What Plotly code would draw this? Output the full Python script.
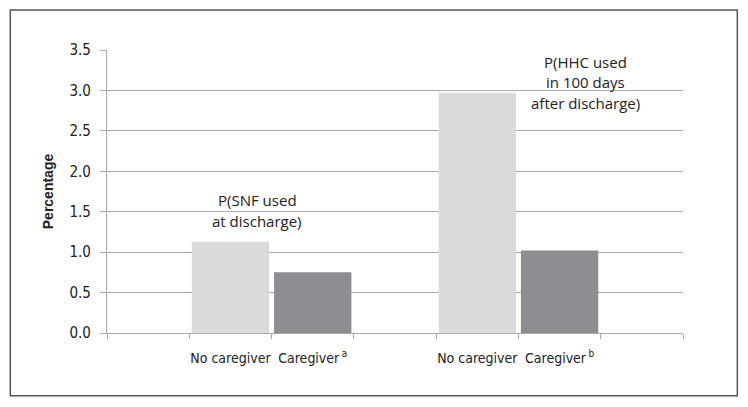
import plotly.graph_objects as go

# Data
slots = ["", "No caregiver", "Caregiver\u2009<sup>a</sup>", "", "No caregiver", "Caregiver\u2009<sup>b</sup>", ""]
bar_slot_index = [1, 2, 4, 5]
bar_values = [1.13, 0.75, 2.97, 1.02]
bar_colors = ["#d9dadc", "#8d8e91", "#d9dadc", "#8d8e91"]

snf_label = ["P(SNF used", "at discharge)"]
hhc_label = ["P(HHC used", "in 100 days", "after discharge)"]
y_ticks = [0.0, 0.5, 1.0, 1.5, 2.0, 2.5, 3.0, 3.5]

tick_labels = [slots[i] for i in bar_slot_index]
boundaries = [i - 0.5 for i in range(len(slots) + 1)]

fig = go.Figure()
fig.add_trace(go.Bar(
    x=bar_slot_index, y=bar_values,
    marker=dict(color=bar_colors, line=dict(width=0)),
    width=0.94, showlegend=False,
))

narrow = "Liberation Sans Narrow, Arial Narrow, DejaVu Sans Condensed, Liberation Sans, Arial"
xtick_font = dict(family=narrow, size=14, color="#222222")
ytick_font = dict(family=narrow, size=15, color="#222222")
ann_font = dict(family="Open Sans, Noto Sans, sans-serif", size=15, color="#222222")

def add_label(lines, xc, yc, spacing):
    n = len(lines)
    for i, t in enumerate(lines):
        off = ((n - 1) / 2 - i) * spacing
        fig.add_annotation(x=xc, y=yc, text=t, showarrow=False, yshift=off,
                           xanchor="center", yanchor="middle", font=ann_font)

add_label(snf_label, 1.323, 1.513, 21)
add_label(hhc_label, 5.31, 3.10, 20.5)

grid_c = "#ababab"
fig.update_layout(
    width=748, height=407,
    margin=dict(l=106.7, r=65.3, t=50, b=73.7, autoexpand=False),
    paper_bgcolor="white", plot_bgcolor="white",
    xaxis=dict(
        range=[-0.5, len(slots) - 0.5], tickmode="array",
        tickvals=bar_slot_index, ticktext=tick_labels, ticks="",
        minor=dict(tickmode="array", tickvals=boundaries, ticks="outside", ticklen=5,
                   tickcolor=grid_c, tickwidth=1.3, showgrid=False),
        showline=True, linecolor=grid_c, linewidth=1.3, zeroline=False,
        showgrid=False, tickfont=xtick_font, ticklabelstandoff=12, tickangle=0,
    ),
    yaxis=dict(
        range=[0, 3.5], tickvals=y_ticks, ticktext=[f"{v:.1f}" for v in y_ticks],
        ticks="outside", ticklen=6, tickcolor=grid_c, tickwidth=1.3,
        showline=True, linecolor=grid_c, linewidth=1.3,
        showgrid=True, gridcolor=grid_c, gridwidth=1.3, zeroline=False,
        tickfont=ytick_font, ticklabelstandoff=6,
        title=dict(text="<b>Percentage</b>", standoff=12,
                   font=dict(family="Liberation Sans, Arial", size=14, color="#222222")),
    ),
    shapes=[dict(type="rect", xref="paper", yref="paper",
                 x0=-0.1679, x1=1.0943, y0=-0.2213, y1=1.1412,
                 line=dict(color="#555555", width=1.5), fillcolor="rgba(0,0,0,0)", layer="below")],
)

fig.write_html("out.html", config={"displayModeBar": False},
               post_script="document.body.style.margin='0';document.body.style.padding='0';")
